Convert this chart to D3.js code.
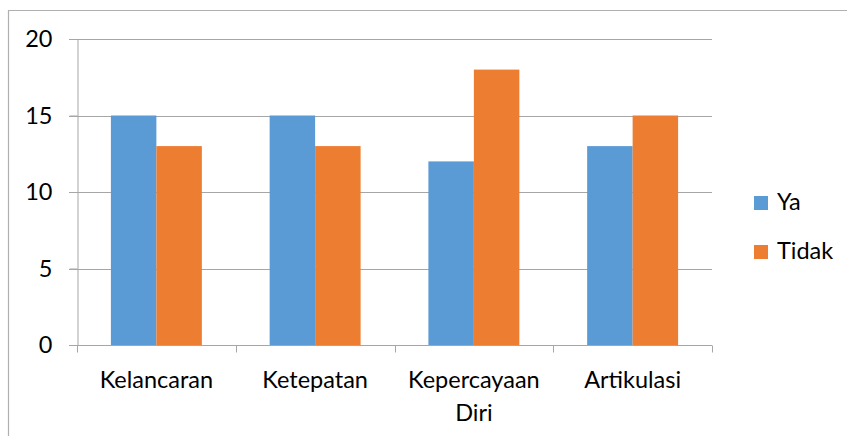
<!DOCTYPE html>
<html>
<head>
<meta charset="utf-8">
<script src="https://cdn.jsdelivr.net/npm/d3@7"></script>
<style>
  html, body { margin: 0; padding: 0; background: #fff; }
  svg { display: block; font-family: Lato, "Open Sans", sans-serif; }
</style>
</head>
<body>
<svg id="chart" width="847" height="436"></svg>
<script>
// Chart data
const categories = ["Kelancaran", "Ketepatan", "Kepercayaan Diri", "Artikulasi"];
const seriesNames = ["Ya", "Tidak"];
const yaValues = [15, 15, 12, 13];
const tidakValues = [13, 13, 18, 15];
const yTicks = [0, 5, 10, 15, 20];
const colors = ["#5b9bd5", "#ed7d31"];

const svg = d3.select("#chart");
const W = 847, H = 436;
const plot = { left: 77, right: 712, top: 39, bottom: 345 };
const fontSize = 23.5;

// Outer frame (top and left edges visible)
svg.append("path")
  .attr("d", `M8.5,${H} L8.5,10.5 L${W},10.5`)
  .attr("fill", "none").attr("stroke", "#b0b0b0").attr("stroke-width", 1.2);

const x0 = d3.scaleBand().domain(categories).range([plot.left, plot.right]).paddingInner(0).paddingOuter(0);
const groupFrac = 0.573;
const x1 = d3.scaleBand().domain(seriesNames)
  .range([0, x0.bandwidth() * groupFrac]);
const groupOffset = x0.bandwidth() * (1 - groupFrac) / 2;
const y = d3.scaleLinear().domain([0, 20]).range([plot.bottom, plot.top]);

// Gridlines
svg.append("g").selectAll("line").data(yTicks.filter(t => t > 0)).join("line")
  .attr("x1", plot.left - 8).attr("x2", plot.right)
  .attr("y1", d => Math.round(y(d)) + 0.5).attr("y2", d => Math.round(y(d)) + 0.5)
  .attr("stroke", "#a6a6a6").attr("stroke-width", 1);

// Y axis
const yAxis = svg.append("g").attr("transform", `translate(${plot.left + 0.5},0)`)
  .call(d3.axisLeft(y).tickValues(yTicks).tickSize(8).tickPadding(17).tickFormat(d3.format("d")));
yAxis.select(".domain").attr("stroke", "#a6a6a6");
yAxis.selectAll(".tick line").attr("stroke", "#a6a6a6");
yAxis.selectAll(".tick text").attr("font-size", fontSize).attr("fill", "#000")
  .attr("font-family", "Lato, sans-serif");

// Bars
const rows = categories.map((c, i) => ({ cat: c, vals: [yaValues[i], tidakValues[i]] }));
const groups = svg.append("g").selectAll("g").data(rows).join("g")
  .attr("transform", d => `translate(${x0(d.cat) + groupOffset},0)`);
groups.selectAll("rect").data(d => d.vals.map((v, j) => ({ name: seriesNames[j], v, j }))).join("rect")
  .attr("x", d => x1(d.name))
  .attr("width", x1.bandwidth())
  .attr("y", d => y(d.v))
  .attr("height", d => y(0) - y(d.v))
  .attr("fill", d => colors[d.j]);

// X axis
const xAxis = svg.append("g").attr("transform", `translate(0,${plot.bottom + 0.5})`);
xAxis.append("line").attr("x1", plot.left - 8).attr("x2", plot.right)
  .attr("stroke", "#a6a6a6");
const tickXs = categories.map(c => x0(c)).concat([plot.right]);
xAxis.selectAll("line.t").data(tickXs).join("line").attr("class", "t")
  .attr("x1", d => Math.round(d) + 0.5).attr("x2", d => Math.round(d) + 0.5)
  .attr("y1", 0).attr("y2", 7).attr("stroke", "#a6a6a6");

const labelLines = [["Kelancaran"], ["Ketepatan"], ["Kepercayaan", "Diri"], ["Artikulasi"]];
categories.forEach((c, i) => {
  const t = xAxis.append("text")
    .attr("x", x0(c) + x0.bandwidth() / 2)
    .attr("y", 42)
    .attr("text-anchor", "middle")
    .attr("font-size", fontSize).attr("fill", "#000");
  labelLines[i].forEach((ln, k) => {
    t.append("tspan").attr("x", x0(c) + x0.bandwidth() / 2).attr("dy", k === 0 ? 0 : 33).text(ln);
  });
});

// Legend
const legend = svg.append("g").attr("transform", "translate(754,196)");
seriesNames.forEach((n, i) => {
  const g = legend.append("g").attr("transform", `translate(0,${i * 49})`);
  g.append("rect").attr("width", 14).attr("height", 14).attr("fill", colors[i]);
  g.append("text").attr("x", 23).attr("y", 14).attr("font-size", fontSize).attr("fill", "#000").text(n);
});
</script>
</body>
</html>
